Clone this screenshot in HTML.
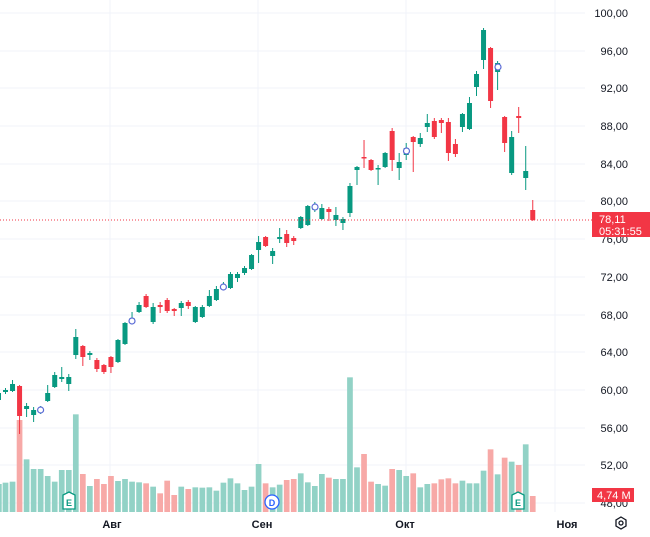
<!DOCTYPE html>
<html><head><meta charset="utf-8"><style>
html,body{margin:0;padding:0;background:#fff;}
svg{display:block;font-family:"Liberation Sans",sans-serif;}
.ax{font-size:11px;fill:#131722;}
</style></head><body>
<svg id="s" width="650" height="537" viewBox="0 0 650 537" xmlns="http://www.w3.org/2000/svg">
<g id="grid" stroke="#f0f3fa" stroke-width="1"></g>
<g id="vol"></g>
<g id="cnd"></g>
<line x1="0" y1="220" x2="592" y2="220" stroke="#f23645" stroke-width="1" stroke-dasharray="1,2"/>
<g class="ax" text-anchor="end">
<text x="628" y="17">100,00</text>
<text x="628" y="55">96,00</text>
<text x="628" y="92">92,00</text>
<text x="628" y="130">88,00</text>
<text x="628" y="168">84,00</text>
<text x="628" y="205">80,00</text>
<text x="628" y="243">76,00</text>
<text x="628" y="281">72,00</text>
<text x="628" y="319">68,00</text>
<text x="628" y="356">64,00</text>
<text x="628" y="394">60,00</text>
<text x="628" y="432">56,00</text>
<text x="628" y="469">52,00</text>
<text x="628" y="507">48,00</text>
</g>
<rect x="592" y="212" width="58" height="25" fill="#f23645"/>
<text x="599" y="223" font-size="11" fill="#fff">78,11</text>
<text x="599" y="235" font-size="11" fill="#fff">05:31:55</text>
<rect x="592" y="488" width="42" height="14" fill="#f23645"/>
<text x="597" y="499" font-size="11" fill="#fff">4,74 M</text>
<g font-size="11" font-weight="bold" fill="#131722" text-anchor="middle">
<text x="112" y="528">Авг</text>
<text x="262" y="528">Сен</text>
<text x="405" y="528">Окт</text>
<text x="567" y="528">Ноя</text>
</g>
<g fill="none" stroke="#131722" stroke-width="1.3"><polygon points="621,517 626,520 626,526 621,529 616,526 616,520"/><circle cx="621" cy="523" r="2"/></g>
<g id="mk"></g>
</svg>
<script>
const NS="http://www.w3.org/2000/svg";
function el(p,t,a){const e=document.createElementNS(NS,t);for(const k in a)e.setAttribute(k,a[k]);document.getElementById(p).appendChild(e);return e;}
// grid
[13,51,88,126,164,201,239,277,315,352,390,428,465,503].forEach(y=>el('grid','line',{x1:0,x2:585,y1:y,y2:y}));
[110,258,406,555].forEach(x=>el('grid','line',{x1:x,x2:x,y1:0,y2:512}));
// candles: [bodyTop, bodyBot, wickTop, wickBot, up(1)/down(0)]
const C=[
[390,392,388,394,1],[384,391,380,392,1],[386,416,385,434,0],[406,409,403,417,1],[410,415,407,422,1],
[409,412,406,414,1],[393,401,385,402,1],[375,387,372,388,1],[377,379,367,382,1],[377,384,374,391,1],
[337,355,329,359,1],[346,357,345,366,0],[353,355,351,360,1],[360,369,358,372,0],[365,372,364,374,0],
[357,367,356,373,0],[340,362,339,363,1],[323,344,322,345,1],[318,323,312,324,1],[305,312,302,313,1],
[296,307,294,308,0],[307,322,303,324,1],[305,307,302,313,0],[300,311,298,313,0],[309,311,308,316,0],
[303,308,301,316,1],[302,306,300,309,0],[307,322,306,323,1],[307,317,305,318,1],[296,306,290,307,1],
[289,300,286,301,1],[285,289,282,290,1],[274,288,272,289,1],[274,278,272,282,1],[268,273,266,275,1],
[255,269,254,270,1],[242,250,236,263,1],[237,246,236,247,0],[251,256,248,264,1],[237,239,228,243,1],
[234,243,230,247,0],[238,241,236,245,0],[217,228,216,229,1],[206,225,205,226,1],[206,210,202,212,1],
[208,219,204,220,1],[209,212,207,221,0],[215,220,207,226,1],[219,223,217,230,1],[186,213,183,217,1],
[167,170,166,185,1],[157,158,140,168,0],[160,170,159,171,0],[168,169,165,185,1],[153,167,152,168,1],
[131,160,128,171,0],[162,168,153,180,1],[148,155,143,160,1],[137,142,136,172,0],[138,144,133,147,1],
[123,127,114,132,1],[121,137,118,139,0],[120,123,118,133,0],[122,153,118,161,0],[144,154,139,157,0],
[114,127,113,132,1],[103,129,97,130,1],[74,87,71,96,1],[30,60,28,69,1],[48,101,47,108,0],
[63,72,61,90,1],[117,143,116,152,0],[137,173,131,175,1],[116,118,107,133,0],[171,178,146,190,1],
[210,220,200,221,0]];
const V=[608,605,420,538,567,567,588,605,570,570,403,582,618,597,612,588,603,597,605,607,610,620,640,602,645,620,627,622,623,622,632,608,595,610,630,620,552,610,622,614,600,597,580];
const V2=[367,378,342,353,357,357,52,322,282,365,372,377,327,330,348,340,382,372,370,358,355,370,362,370,370,332,268,343,293,305,315,253,408];
const vy=V.map(z=>280+z/3).concat(V2.map(z=>360+z/3));
// partial bar at left
el('vol','rect',{x:-4,y:484,width:5.7,height:28,fill:'#92d2c6'});
el('cnd','rect',{x:-4,y:393,width:5,height:7,fill:'#089981'});
C.forEach((c,k)=>{
 const x=5.5+7.03*k, up=c[4];
 const col=up?'#089981':'#f23645', vc=up?'#92d2c6':'#f7a9a7';
 const y=vy[k]; el('vol','rect',{x:x-2.85,y:y,width:5.7,height:512-y,fill:vc});
 el('cnd','line',{x1:x,x2:x,y1:c[2],y2:c[3],stroke:col,'stroke-width':1});
 el('cnd','rect',{x:x-2.5,y:c[0],width:5,height:Math.max(1.5,c[1]-c[0]),fill:col});
});
// markers
function ring(x,y){el('mk','circle',{cx:x,cy:y,r:3,fill:'#fff',stroke:'#5b6bd6','stroke-width':1.2});}
ring(40.6,410);ring(132,321);ring(223.4,287);ring(315,207);ring(406.5,151);ring(498,67);
function E(x){const p=el('mk','polygon',{points:`${x},492 ${x+6},495 ${x+6},509 ${x-6},509 ${x-6},495`,fill:'#fff',stroke:'#089981','stroke-width':1.3});
 const t=el('mk','text',{x:x,y:506,'font-size':9,'text-anchor':'middle',fill:'#089981','font-weight':'bold'});t.textContent='E';}
E(69);E(518);
el('mk','circle',{cx:272,cy:502,r:7,fill:'#fff',stroke:'#2962ff','stroke-width':1.3});
const d=el('mk','text',{x:272,y:506,'font-size':9,'text-anchor':'middle',fill:'#2962ff','font-weight':'bold'});d.textContent='D';
</script>
</body></html>
